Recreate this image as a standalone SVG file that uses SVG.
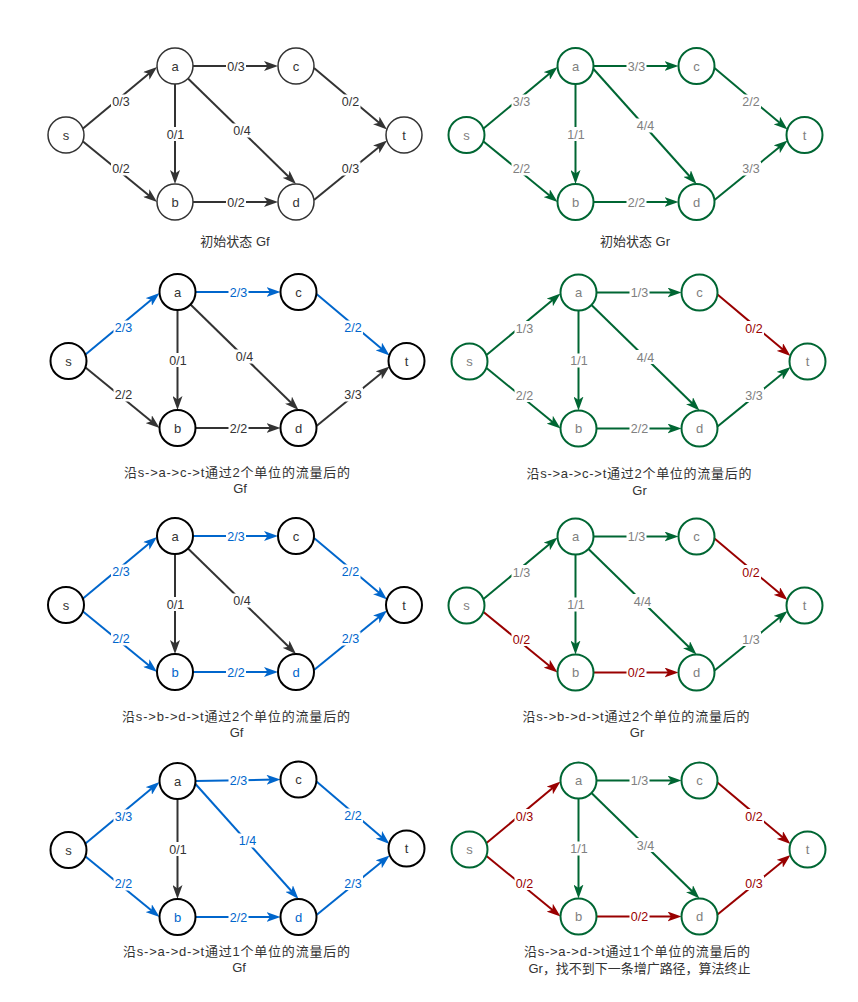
<svg xmlns="http://www.w3.org/2000/svg" width="858" height="1002" viewBox="0 0 858 1002">
<style>
.e{fill:none;stroke-width:2}
.k{stroke:#333333}.g{stroke:#006633}.r{stroke:#990000}.b{stroke:#0066CC}
.lb{fill:#ffffff}
text{font-family:"Liberation Sans","Noto Sans CJK SC",sans-serif;text-anchor:middle}
.lt{font-size:12.5px}
.tk{fill:#333333}.tg{fill:#808080}.tr{fill:#990000}.tb{fill:#0066CC}
.n1{fill:#ffffff;stroke:#333333;stroke-width:1.5}
.n2{fill:#ffffff;stroke:#000000;stroke-width:2}
.ng{fill:#ffffff;stroke:#006633;stroke-width:2}
.nt{font-size:13px}
.cap{font-family:"Liberation Sans","Noto Sans CJK SC",sans-serif;font-size:13px;fill:#333333}
</style>
<defs>
<marker id="ak" markerUnits="userSpaceOnUse" markerWidth="14" markerHeight="10" refX="8" refY="5" orient="auto"><path d="M0,0L14,5L0,10L3.5,5Z" fill="#333333"/></marker>
<marker id="ag" markerUnits="userSpaceOnUse" markerWidth="14" markerHeight="10" refX="8" refY="5" orient="auto"><path d="M0,0L14,5L0,10L3.5,5Z" fill="#006633"/></marker>
<marker id="ar" markerUnits="userSpaceOnUse" markerWidth="14" markerHeight="10" refX="8" refY="5" orient="auto"><path d="M0,0L14,5L0,10L3.5,5Z" fill="#990000"/></marker>
<marker id="ab" markerUnits="userSpaceOnUse" markerWidth="14" markerHeight="10" refX="8" refY="5" orient="auto"><path d="M0,0L14,5L0,10L3.5,5Z" fill="#0066CC"/></marker>
</defs>
<rect x="0" y="0" width="858" height="1002" fill="#ffffff"/>

<!-- Panel 1 -->
<g id="panel1" transform="translate(66,135)">
<g id="p1-edges">
<line class="e k" x1="17" y1="-6.5" x2="86.4" y2="-64.2" marker-end="url(#ak)"/>
<line class="e k" x1="17" y1="6.5" x2="86.4" y2="63.2" marker-end="url(#ak)"/>
<line class="e k" x1="127" y1="-69" x2="206" y2="-69" marker-end="url(#ak)"/>
<line class="e k" x1="109" y1="-51" x2="109" y2="43" marker-end="url(#ak)"/>
<line class="e k" x1="122" y1="-56.5" x2="225.7" y2="44.8" marker-end="url(#ak)"/>
<line class="e k" x1="127" y1="67" x2="206" y2="67" marker-end="url(#ak)"/>
<line class="e k" x1="248" y1="-67" x2="316.4" y2="-9.4" marker-end="url(#ak)"/>
<line class="e k" x1="248" y1="65" x2="316.4" y2="9.3" marker-end="url(#ak)"/>
<rect class="lb" x="45" y="-40.5" width="20" height="14"/><text class="lt tk" x="55" y="-29">0/3</text>
<rect class="lb" x="45" y="26.5" width="20" height="14"/><text class="lt tk" x="55" y="38">0/2</text>
<rect class="lb" x="160" y="-76" width="20" height="14"/><text class="lt tk" x="170" y="-64.5">0/3</text>
<rect class="lb" x="99.5" y="-8" width="20" height="14"/><text class="lt tk" x="109.5" y="3.5">0/1</text>
<rect class="lb" x="166" y="-11.5" width="20" height="14"/><text class="lt tk" x="176" y="0">0/4</text>
<rect class="lb" x="160" y="60" width="20" height="14"/><text class="lt tk" x="170" y="71.5">0/2</text>
<rect class="lb" x="274.5" y="-40.5" width="20" height="14"/><text class="lt tk" x="284.5" y="-29">0/2</text>
<rect class="lb" x="274.5" y="26.5" width="20" height="14"/><text class="lt tk" x="284.5" y="38">0/3</text>
</g>
<g id="p1-s"><circle class="n1" cx="0" cy="0" r="18"/><text class="nt tk" x="0" y="4.5">s</text></g>
<g id="p1-a"><circle class="n1" cx="109" cy="-69" r="18"/><text class="nt tk" x="109" y="-64.5">a</text></g>
<g id="p1-b"><circle class="n1" cx="109" cy="67" r="18"/><text class="nt tk" x="109" y="71.5">b</text></g>
<g id="p1-c"><circle class="n1" cx="230" cy="-69" r="18"/><text class="nt tk" x="230" y="-64.5">c</text></g>
<g id="p1-d"><circle class="n1" cx="230" cy="67" r="18"/><text class="nt tk" x="230" y="71.5">d</text></g>
<g id="p1-t"><circle class="n1" cx="338" cy="0" r="18"/><text class="nt tk" x="338" y="4.5">t</text></g>
</g>
<text class="cap" x="235" y="245.5">初始状态 Gf</text>

<!-- Panel 2 -->
<g id="panel2" transform="translate(466.5,135)">
<g id="p2-edges">
<line class="e g" x1="17" y1="-6.5" x2="86.4" y2="-64.2" marker-end="url(#ag)"/>
<line class="e g" x1="17" y1="6.5" x2="86.4" y2="63.2" marker-end="url(#ag)"/>
<line class="e g" x1="127" y1="-69" x2="206" y2="-69" marker-end="url(#ag)"/>
<line class="e g" x1="109" y1="-51" x2="109" y2="43" marker-end="url(#ag)"/>
<line class="e g" x1="127" y1="-66" x2="226" y2="44.5" marker-end="url(#ag)"/>
<line class="e g" x1="127" y1="67" x2="206" y2="67" marker-end="url(#ag)"/>
<line class="e g" x1="248" y1="-67" x2="316.4" y2="-9.4" marker-end="url(#ag)"/>
<line class="e g" x1="248" y1="65" x2="316.4" y2="9.3" marker-end="url(#ag)"/>
<rect class="lb" x="45" y="-40.5" width="20" height="14"/><text class="lt tg" x="55" y="-29">3/3</text>
<rect class="lb" x="45" y="26.5" width="20" height="14"/><text class="lt tg" x="55" y="38">2/2</text>
<rect class="lb" x="160" y="-76" width="20" height="14"/><text class="lt tg" x="170" y="-64.5">3/3</text>
<rect class="lb" x="99.5" y="-8" width="20" height="14"/><text class="lt tg" x="109.5" y="3.5">1/1</text>
<rect class="lb" x="169" y="-16.5" width="20" height="14"/><text class="lt tg" x="179" y="-5">4/4</text>
<rect class="lb" x="160" y="60" width="20" height="14"/><text class="lt tg" x="170" y="71.5">2/2</text>
<rect class="lb" x="274.5" y="-40.5" width="20" height="14"/><text class="lt tg" x="284.5" y="-29">2/2</text>
<rect class="lb" x="274.5" y="26.5" width="20" height="14"/><text class="lt tg" x="284.5" y="38">3/3</text>
</g>
<g id="p2-s"><circle class="ng" cx="0" cy="0" r="18"/><text class="nt tg" x="0" y="4.5">s</text></g>
<g id="p2-a"><circle class="ng" cx="109" cy="-69" r="18"/><text class="nt tg" x="109" y="-64.5">a</text></g>
<g id="p2-b"><circle class="ng" cx="109" cy="67" r="18"/><text class="nt tg" x="109" y="71.5">b</text></g>
<g id="p2-c"><circle class="ng" cx="230" cy="-69" r="18"/><text class="nt tg" x="230" y="-64.5">c</text></g>
<g id="p2-d"><circle class="ng" cx="230" cy="67" r="18"/><text class="nt tg" x="230" y="71.5">d</text></g>
<g id="p2-t"><circle class="ng" cx="338" cy="0" r="18"/><text class="nt tg" x="338" y="4.5">t</text></g>
</g>
<text class="cap" x="635" y="245.5">初始状态 Gr</text>

<!-- Panel 3 -->
<g id="panel3" transform="translate(68.5,361)">
<g id="p3-edges">
<line class="e b" x1="17" y1="-6.5" x2="86.4" y2="-64.2" marker-end="url(#ab)"/>
<line class="e k" x1="17" y1="6.5" x2="86.4" y2="63.2" marker-end="url(#ak)"/>
<line class="e b" x1="127" y1="-69" x2="206" y2="-69" marker-end="url(#ab)"/>
<line class="e k" x1="109" y1="-51" x2="109" y2="43" marker-end="url(#ak)"/>
<line class="e k" x1="122" y1="-56.5" x2="225.7" y2="44.8" marker-end="url(#ak)"/>
<line class="e k" x1="127" y1="67" x2="206" y2="67" marker-end="url(#ak)"/>
<line class="e b" x1="248" y1="-67" x2="316.4" y2="-9.4" marker-end="url(#ab)"/>
<line class="e k" x1="248" y1="65" x2="316.4" y2="9.3" marker-end="url(#ak)"/>
<rect class="lb" x="45" y="-40.5" width="20" height="14"/><text class="lt tb" x="55" y="-29">2/3</text>
<rect class="lb" x="45" y="26.5" width="20" height="14"/><text class="lt tk" x="55" y="38">2/2</text>
<rect class="lb" x="160" y="-76" width="20" height="14"/><text class="lt tb" x="170" y="-64.5">2/3</text>
<rect class="lb" x="99.5" y="-8" width="20" height="14"/><text class="lt tk" x="109.5" y="3.5">0/1</text>
<rect class="lb" x="166" y="-11.5" width="20" height="14"/><text class="lt tk" x="176" y="0">0/4</text>
<rect class="lb" x="160" y="60" width="20" height="14"/><text class="lt tk" x="170" y="71.5">2/2</text>
<rect class="lb" x="274.5" y="-40.5" width="20" height="14"/><text class="lt tb" x="284.5" y="-29">2/2</text>
<rect class="lb" x="274.5" y="26.5" width="20" height="14"/><text class="lt tk" x="284.5" y="38">3/3</text>
</g>
<g id="p3-s"><circle class="n2" cx="0" cy="0" r="18"/><text class="nt tk" x="0" y="4.5">s</text></g>
<g id="p3-a"><circle class="n2" cx="109" cy="-69" r="18"/><text class="nt tk" x="109" y="-64.5">a</text></g>
<g id="p3-b"><circle class="n2" cx="109" cy="67" r="18"/><text class="nt tk" x="109" y="71.5">b</text></g>
<g id="p3-c"><circle class="n2" cx="230" cy="-69" r="18"/><text class="nt tk" x="230" y="-64.5">c</text></g>
<g id="p3-d"><circle class="n2" cx="230" cy="67" r="18"/><text class="nt tk" x="230" y="71.5">d</text></g>
<g id="p3-t"><circle class="n2" cx="338" cy="0" r="18"/><text class="nt tk" x="338" y="4.5">t</text></g>
</g>
<text class="cap" x="237" y="476.5" textLength="226" lengthAdjust="spacing">沿s-&gt;a-&gt;c-&gt;t通过2个单位的流量后的</text>
<text class="cap" x="240" y="493">Gf</text>

<!-- Panel 4 -->
<g id="panel4" transform="translate(469.5,361.5)">
<g id="p4-edges">
<line class="e g" x1="17" y1="-6.5" x2="86.4" y2="-64.2" marker-end="url(#ag)"/>
<line class="e g" x1="17" y1="6.5" x2="86.4" y2="63.2" marker-end="url(#ag)"/>
<line class="e g" x1="127" y1="-69" x2="206" y2="-69" marker-end="url(#ag)"/>
<line class="e g" x1="109" y1="-51" x2="109" y2="43" marker-end="url(#ag)"/>
<line class="e g" x1="122" y1="-56.5" x2="225.7" y2="44.8" marker-end="url(#ag)"/>
<line class="e g" x1="127" y1="67" x2="206" y2="67" marker-end="url(#ag)"/>
<line class="e r" x1="248" y1="-67" x2="316.4" y2="-9.4" marker-end="url(#ar)"/>
<line class="e g" x1="248" y1="65" x2="316.4" y2="9.3" marker-end="url(#ag)"/>
<rect class="lb" x="45" y="-40.5" width="20" height="14"/><text class="lt tg" x="55" y="-29">1/3</text>
<rect class="lb" x="45" y="26.5" width="20" height="14"/><text class="lt tg" x="55" y="38">2/2</text>
<rect class="lb" x="160" y="-76" width="20" height="14"/><text class="lt tg" x="170" y="-64.5">1/3</text>
<rect class="lb" x="99.5" y="-8" width="20" height="14"/><text class="lt tg" x="109.5" y="3.5">1/1</text>
<rect class="lb" x="166" y="-11.5" width="20" height="14"/><text class="lt tg" x="176" y="0">4/4</text>
<rect class="lb" x="160" y="60" width="20" height="14"/><text class="lt tg" x="170" y="71.5">2/2</text>
<rect class="lb" x="274.5" y="-40.5" width="20" height="14"/><text class="lt tr" x="284.5" y="-29">0/2</text>
<rect class="lb" x="274.5" y="26.5" width="20" height="14"/><text class="lt tg" x="284.5" y="38">3/3</text>
</g>
<g id="p4-s"><circle class="ng" cx="0" cy="0" r="18"/><text class="nt tg" x="0" y="4.5">s</text></g>
<g id="p4-a"><circle class="ng" cx="109" cy="-69" r="18"/><text class="nt tg" x="109" y="-64.5">a</text></g>
<g id="p4-b"><circle class="ng" cx="109" cy="67" r="18"/><text class="nt tg" x="109" y="71.5">b</text></g>
<g id="p4-c"><circle class="ng" cx="230" cy="-69" r="18"/><text class="nt tg" x="230" y="-64.5">c</text></g>
<g id="p4-d"><circle class="ng" cx="230" cy="67" r="18"/><text class="nt tg" x="230" y="71.5">d</text></g>
<g id="p4-t"><circle class="ng" cx="338" cy="0" r="18"/><text class="nt tg" x="338" y="4.5">t</text></g>
</g>
<text class="cap" x="639" y="477.5" textLength="225" lengthAdjust="spacing">沿s-&gt;a-&gt;c-&gt;t通过2个单位的流量后的</text>
<text class="cap" x="639.5" y="494.5">Gr</text>

<!-- Panel 5 -->
<g id="panel5" transform="translate(66,605)">
<g id="p5-edges">
<line class="e b" x1="17" y1="-6.5" x2="86.4" y2="-64.2" marker-end="url(#ab)"/>
<line class="e b" x1="17" y1="6.5" x2="86.4" y2="63.2" marker-end="url(#ab)"/>
<line class="e b" x1="127" y1="-69" x2="206" y2="-69" marker-end="url(#ab)"/>
<line class="e k" x1="109" y1="-51" x2="109" y2="43" marker-end="url(#ak)"/>
<line class="e k" x1="122" y1="-56.5" x2="225.7" y2="44.8" marker-end="url(#ak)"/>
<line class="e b" x1="127" y1="67" x2="206" y2="67" marker-end="url(#ab)"/>
<line class="e b" x1="248" y1="-67" x2="316.4" y2="-9.4" marker-end="url(#ab)"/>
<line class="e b" x1="248" y1="65" x2="316.4" y2="9.3" marker-end="url(#ab)"/>
<rect class="lb" x="45" y="-40.5" width="20" height="14"/><text class="lt tb" x="55" y="-29">2/3</text>
<rect class="lb" x="45" y="26.5" width="20" height="14"/><text class="lt tb" x="55" y="38">2/2</text>
<rect class="lb" x="160" y="-76" width="20" height="14"/><text class="lt tb" x="170" y="-64.5">2/3</text>
<rect class="lb" x="99.5" y="-8" width="20" height="14"/><text class="lt tk" x="109.5" y="3.5">0/1</text>
<rect class="lb" x="166" y="-11.5" width="20" height="14"/><text class="lt tk" x="176" y="0">0/4</text>
<rect class="lb" x="160" y="60" width="20" height="14"/><text class="lt tb" x="170" y="71.5">2/2</text>
<rect class="lb" x="274.5" y="-40.5" width="20" height="14"/><text class="lt tb" x="284.5" y="-29">2/2</text>
<rect class="lb" x="274.5" y="26.5" width="20" height="14"/><text class="lt tb" x="284.5" y="38">2/3</text>
</g>
<g id="p5-s"><circle class="n2" cx="0" cy="0" r="18"/><text class="nt tk" x="0" y="4.5">s</text></g>
<g id="p5-a"><circle class="n2" cx="109" cy="-69" r="18"/><text class="nt tk" x="109" y="-64.5">a</text></g>
<g id="p5-b"><circle class="n2" cx="109" cy="67" r="18"/><text class="nt tb" x="109" y="71.5">b</text></g>
<g id="p5-c"><circle class="n2" cx="230" cy="-69" r="18"/><text class="nt tk" x="230" y="-64.5">c</text></g>
<g id="p5-d"><circle class="n2" cx="230" cy="67" r="18"/><text class="nt tb" x="230" y="71.5">d</text></g>
<g id="p5-t"><circle class="n2" cx="338" cy="0" r="18"/><text class="nt tk" x="338" y="4.5">t</text></g>
</g>
<text class="cap" x="236" y="721" textLength="228" lengthAdjust="spacing">沿s-&gt;b-&gt;d-&gt;t通过2个单位的流量后的</text>
<text class="cap" x="236.5" y="736.5">Gf</text>

<!-- Panel 6 -->
<g id="panel6" transform="translate(466.5,605.5)">
<g id="p6-edges">
<line class="e g" x1="17" y1="-6.5" x2="86.4" y2="-64.2" marker-end="url(#ag)"/>
<line class="e r" x1="17" y1="6.5" x2="86.4" y2="63.2" marker-end="url(#ar)"/>
<line class="e g" x1="127" y1="-69" x2="206" y2="-69" marker-end="url(#ag)"/>
<line class="e g" x1="109" y1="-51" x2="109" y2="43" marker-end="url(#ag)"/>
<line class="e g" x1="122" y1="-56.5" x2="225.7" y2="44.8" marker-end="url(#ag)"/>
<line class="e r" x1="127" y1="67" x2="206" y2="67" marker-end="url(#ar)"/>
<line class="e r" x1="248" y1="-67" x2="316.4" y2="-9.4" marker-end="url(#ar)"/>
<line class="e g" x1="248" y1="65" x2="316.4" y2="9.3" marker-end="url(#ag)"/>
<rect class="lb" x="45" y="-40.5" width="20" height="14"/><text class="lt tg" x="55" y="-29">1/3</text>
<rect class="lb" x="45" y="26.5" width="20" height="14"/><text class="lt tr" x="55" y="38">0/2</text>
<rect class="lb" x="160" y="-76" width="20" height="14"/><text class="lt tg" x="170" y="-64.5">1/3</text>
<rect class="lb" x="99.5" y="-8" width="20" height="14"/><text class="lt tg" x="109.5" y="3.5">1/1</text>
<rect class="lb" x="166" y="-11.5" width="20" height="14"/><text class="lt tg" x="176" y="0">4/4</text>
<rect class="lb" x="160" y="60" width="20" height="14"/><text class="lt tr" x="170" y="71.5">0/2</text>
<rect class="lb" x="274.5" y="-40.5" width="20" height="14"/><text class="lt tr" x="284.5" y="-29">0/2</text>
<rect class="lb" x="274.5" y="26.5" width="20" height="14"/><text class="lt tg" x="284.5" y="38">1/3</text>
</g>
<g id="p6-s"><circle class="ng" cx="0" cy="0" r="18"/><text class="nt tg" x="0" y="4.5">s</text></g>
<g id="p6-a"><circle class="ng" cx="109" cy="-69" r="18"/><text class="nt tg" x="109" y="-64.5">a</text></g>
<g id="p6-b"><circle class="ng" cx="109" cy="67" r="18"/><text class="nt tg" x="109" y="71.5">b</text></g>
<g id="p6-c"><circle class="ng" cx="230" cy="-69" r="18"/><text class="nt tg" x="230" y="-64.5">c</text></g>
<g id="p6-d"><circle class="ng" cx="230" cy="67" r="18"/><text class="nt tg" x="230" y="71.5">d</text></g>
<g id="p6-t"><circle class="ng" cx="338" cy="0" r="18"/><text class="nt tg" x="338" y="4.5">t</text></g>
</g>
<text class="cap" x="636" y="721" textLength="227" lengthAdjust="spacing">沿s-&gt;b-&gt;d-&gt;t通过2个单位的流量后的</text>
<text class="cap" x="637" y="736.5">Gr</text>

<!-- Panel 7 -->
<g id="panel7" transform="translate(68.5,850)">
<g id="p7-edges">
<line class="e b" x1="17" y1="-6.5" x2="86.4" y2="-64.2" marker-end="url(#ab)"/>
<line class="e b" x1="17" y1="6.5" x2="86.4" y2="63.2" marker-end="url(#ab)"/>
<line class="e b" x1="127" y1="-69" x2="206" y2="-70.4" marker-end="url(#ab)"/>
<line class="e k" x1="109" y1="-51" x2="109" y2="43" marker-end="url(#ak)"/>
<line class="e b" x1="127" y1="-66" x2="226" y2="44.5" marker-end="url(#ab)"/>
<line class="e b" x1="127" y1="67" x2="206" y2="67" marker-end="url(#ab)"/>
<line class="e b" x1="248" y1="-68.5" x2="316.4" y2="-9.9" marker-end="url(#ab)"/>
<line class="e b" x1="248" y1="65" x2="316.4" y2="9.3" marker-end="url(#ab)"/>
<rect class="lb" x="45" y="-40.5" width="20" height="14"/><text class="lt tb" x="55" y="-29">3/3</text>
<rect class="lb" x="45" y="26.5" width="20" height="14"/><text class="lt tb" x="55" y="38">2/2</text>
<rect class="lb" x="160" y="-77" width="20" height="14"/><text class="lt tb" x="170" y="-65.5">2/3</text>
<rect class="lb" x="99.5" y="-8" width="20" height="14"/><text class="lt tk" x="109.5" y="3.5">0/1</text>
<rect class="lb" x="169" y="-16.5" width="20" height="14"/><text class="lt tb" x="179" y="-5">1/4</text>
<rect class="lb" x="160" y="60" width="20" height="14"/><text class="lt tb" x="170" y="71.5">2/2</text>
<rect class="lb" x="274.5" y="-41.5" width="20" height="14"/><text class="lt tb" x="284.5" y="-30">2/2</text>
<rect class="lb" x="274.5" y="26" width="20" height="14"/><text class="lt tb" x="284.5" y="37.5">2/3</text>
</g>
<g id="p7-s"><circle class="n2" cx="0" cy="0" r="18"/><text class="nt tk" x="0" y="4.5">s</text></g>
<g id="p7-a"><circle class="n2" cx="109" cy="-69" r="18"/><text class="nt tk" x="109" y="-64.5">a</text></g>
<g id="p7-b"><circle class="n2" cx="109" cy="67" r="18"/><text class="nt tb" x="109" y="71.5">b</text></g>
<g id="p7-c"><circle class="n2" cx="230" cy="-70.5" r="18"/><text class="nt tk" x="230" y="-66">c</text></g>
<g id="p7-d"><circle class="n2" cx="230" cy="67" r="18"/><text class="nt tb" x="230" y="71.5">d</text></g>
<g id="p7-t"><circle class="n2" cx="338" cy="-1.5" r="18"/><text class="nt tk" x="338" y="3">t</text></g>
</g>
<text class="cap" x="236.5" y="956" textLength="227" lengthAdjust="spacing">沿s-&gt;a-&gt;d-&gt;t通过1个单位的流量后的</text>
<text class="cap" x="239" y="972">Gf</text>

<!-- Panel 8 -->
<g id="panel8" transform="translate(469.5,849.5)">
<g id="p8-edges">
<line class="e r" x1="17" y1="-6.5" x2="86.4" y2="-64.2" marker-end="url(#ar)"/>
<line class="e r" x1="17" y1="6.5" x2="86.4" y2="63.2" marker-end="url(#ar)"/>
<line class="e g" x1="127" y1="-69" x2="206" y2="-69" marker-end="url(#ag)"/>
<line class="e g" x1="109" y1="-51" x2="109" y2="43" marker-end="url(#ag)"/>
<line class="e g" x1="122" y1="-56.5" x2="225.7" y2="44.8" marker-end="url(#ag)"/>
<line class="e r" x1="127" y1="67" x2="206" y2="67" marker-end="url(#ar)"/>
<line class="e r" x1="248" y1="-67" x2="316.4" y2="-9.4" marker-end="url(#ar)"/>
<line class="e r" x1="248" y1="65" x2="316.4" y2="9.3" marker-end="url(#ar)"/>
<rect class="lb" x="45" y="-40.5" width="20" height="14"/><text class="lt tr" x="55" y="-29">0/3</text>
<rect class="lb" x="45" y="26.5" width="20" height="14"/><text class="lt tr" x="55" y="38">0/2</text>
<rect class="lb" x="160" y="-76" width="20" height="14"/><text class="lt tg" x="170" y="-64.5">1/3</text>
<rect class="lb" x="99.5" y="-8" width="20" height="14"/><text class="lt tg" x="109.5" y="3.5">1/1</text>
<rect class="lb" x="166" y="-11.5" width="20" height="14"/><text class="lt tg" x="176" y="0">3/4</text>
<rect class="lb" x="160" y="60" width="20" height="14"/><text class="lt tr" x="170" y="71.5">0/2</text>
<rect class="lb" x="274.5" y="-40.5" width="20" height="14"/><text class="lt tr" x="284.5" y="-29">0/2</text>
<rect class="lb" x="274.5" y="26.5" width="20" height="14"/><text class="lt tr" x="284.5" y="38">0/3</text>
</g>
<g id="p8-s"><circle class="ng" cx="0" cy="0" r="18"/><text class="nt tg" x="0" y="4.5">s</text></g>
<g id="p8-a"><circle class="ng" cx="109" cy="-69" r="18"/><text class="nt tg" x="109" y="-64.5">a</text></g>
<g id="p8-b"><circle class="ng" cx="109" cy="67" r="18"/><text class="nt tg" x="109" y="71.5">b</text></g>
<g id="p8-c"><circle class="ng" cx="230" cy="-69" r="18"/><text class="nt tg" x="230" y="-64.5">c</text></g>
<g id="p8-d"><circle class="ng" cx="230" cy="67" r="18"/><text class="nt tg" x="230" y="71.5">d</text></g>
<g id="p8-t"><circle class="ng" cx="338" cy="0" r="18"/><text class="nt tg" x="338" y="4.5">t</text></g>
</g>
<text class="cap" x="637" y="956" textLength="226" lengthAdjust="spacing">沿s-&gt;a-&gt;d-&gt;t通过1个单位的流量后的</text>
<text class="cap" x="639.5" y="972.5" textLength="222" lengthAdjust="spacing">Gr，找不到下一条增广路径，算法终止</text>
</svg>
